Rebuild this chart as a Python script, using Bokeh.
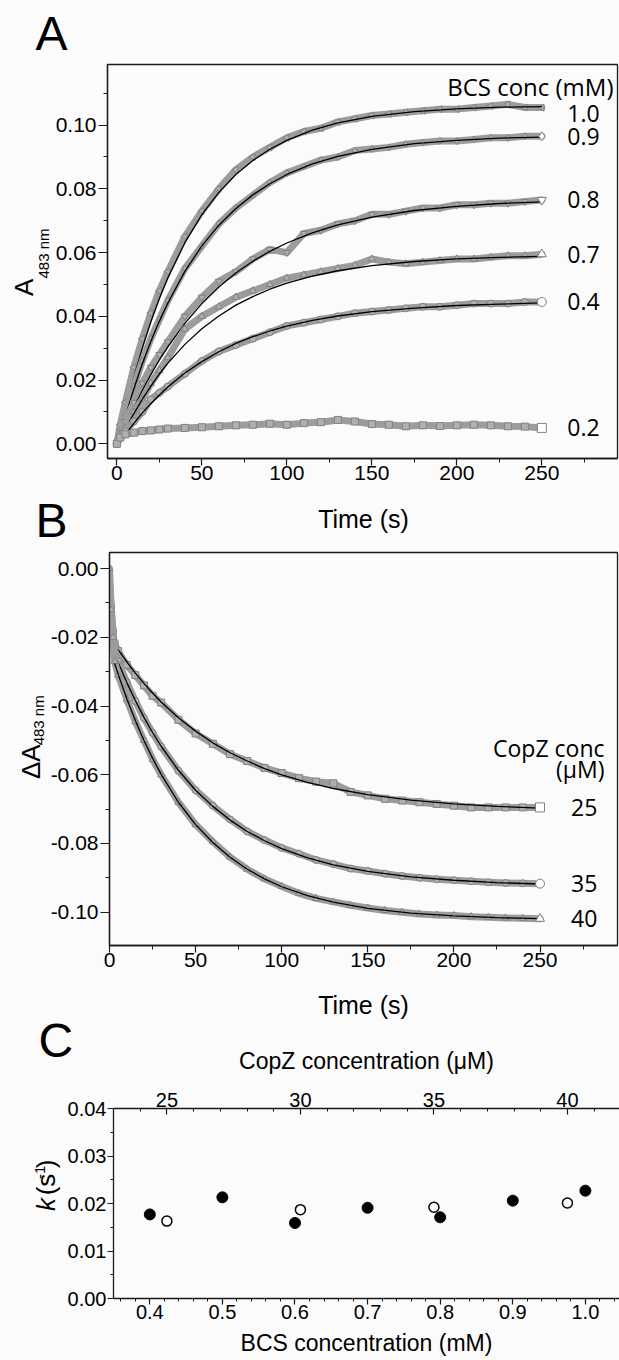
import math
from bokeh.plotting import figure
from bokeh.models import Range1d, LinearAxis, FixedTicker, PrintfTickFormatter, Label
from bokeh.layouts import column, row
from bokeh.core.properties import value
from bokeh.embed import file_html
from bokeh.resources import INLINE

# ---------------- Panel A data (BCS series, absorbance at 483 nm) ----------------
A_LABELS = ["1.0", "0.9", "0.8", "0.7", "0.4", "0.2"]
A_T = [0, 2, 5, 10, 15, 20, 25, 30, 40, 50, 60, 70, 80, 90, 100, 110, 120, 130,
       140, 150, 160, 170, 180, 190, 200, 210, 220, 230, 240, 250]
A_10 = [0.000, 0.006, 0.013, 0.024, 0.033, 0.041, 0.048, 0.054, 0.065, 0.073, 0.080, 0.086,
        0.090, 0.093, 0.096, 0.098, 0.099, 0.101, 0.102, 0.103, 0.1035, 0.104, 0.1045, 0.105,
        0.105, 0.1055, 0.106, 0.1065, 0.1055, 0.1055]
A_09 = [0.000, 0.004, 0.009, 0.018, 0.026, 0.033, 0.039, 0.045, 0.055, 0.062, 0.069, 0.074,
        0.078, 0.082, 0.085, 0.087, 0.089, 0.090, 0.092, 0.0925, 0.093, 0.094, 0.0945, 0.095,
        0.095, 0.0955, 0.096, 0.096, 0.0965, 0.0965]
A_08 = [0.000, 0.004, 0.007, 0.013, 0.019, 0.024, 0.028, 0.032, 0.040, 0.046, 0.051, 0.054,
        0.058, 0.061, 0.060, 0.066, 0.067, 0.069, 0.070, 0.072, 0.072, 0.073, 0.074, 0.074,
        0.075, 0.075, 0.0755, 0.0755, 0.076, 0.0765]
A_07 = [0.000, 0.003, 0.005, 0.010, 0.014, 0.019, 0.023, 0.027, 0.036, 0.040, 0.043, 0.046,
        0.048, 0.050, 0.052, 0.053, 0.054, 0.055, 0.056, 0.058, 0.057, 0.0565, 0.057, 0.0575,
        0.058, 0.058, 0.0585, 0.059, 0.059, 0.0595]
A_04 = [0.000, 0.002, 0.004, 0.007, 0.010, 0.014, 0.016, 0.018, 0.022, 0.026, 0.029, 0.031,
        0.033, 0.035, 0.037, 0.038, 0.039, 0.040, 0.041, 0.0415, 0.042, 0.0425, 0.043, 0.043,
        0.0435, 0.044, 0.044, 0.044, 0.0445, 0.0445]
A_02 = [0.000, 0.002, 0.003, 0.0035, 0.004, 0.0042, 0.0045, 0.0048, 0.005, 0.0052, 0.0055,
        0.0058, 0.006, 0.0063, 0.006, 0.0065, 0.0068, 0.0075, 0.007, 0.0062, 0.006, 0.0055,
        0.0058, 0.0056, 0.0058, 0.006, 0.0058, 0.0055, 0.0054, 0.0050]

A_FT = [0, 5, 10, 15, 20, 25, 30, 40, 50, 60, 70, 80, 90, 100, 115, 130, 150, 175, 200, 225, 250]
AF_10 = [-0.0010, 0.0105, 0.0209, 0.0301, 0.0383, 0.0456, 0.0521, 0.0631, 0.0719, 0.0789, 0.0845,
         0.0889, 0.0924, 0.0952, 0.0984, 0.1007, 0.1027, 0.1042, 0.1051, 0.1056, 0.1058]
AF_09 = [-0.0010, 0.0086, 0.0173, 0.0251, 0.0322, 0.0385, 0.0442, 0.0541, 0.0621, 0.0686, 0.0738,
         0.0781, 0.0816, 0.0845, 0.0878, 0.0902, 0.0924, 0.0942, 0.0952, 0.0959, 0.0962]
AF_08 = [-0.0010, 0.0054, 0.0113, 0.0167, 0.0217, 0.0263, 0.0304, 0.0378, 0.0440, 0.0492, 0.0536,
         0.0573, 0.0604, 0.0630, 0.0662, 0.0687, 0.0711, 0.0732, 0.0745, 0.0754, 0.0759]
AF_07 = [-0.0010, 0.0045, 0.0095, 0.0140, 0.0181, 0.0219, 0.0253, 0.0312, 0.0361, 0.0401, 0.0435,
         0.0462, 0.0485, 0.0504, 0.0526, 0.0543, 0.0559, 0.0572, 0.0580, 0.0585, 0.0588]
AF_04 = [-0.0010, 0.0029, 0.0064, 0.0097, 0.0126, 0.0153, 0.0178, 0.0222, 0.0258, 0.0289, 0.0315,
         0.0336, 0.0354, 0.0369, 0.0387, 0.0401, 0.0415, 0.0426, 0.0434, 0.0438, 0.0442]

A_X_TICKS = [0, 50, 100, 150, 200, 250]
A_X_MINOR = [25, 75, 125, 175, 225, 275]
A_Y_TICKS = [0.0, 0.02, 0.04, 0.06, 0.08, 0.10]
A_Y_MINOR = [0.01, 0.03, 0.05, 0.07, 0.09, 0.11]

# ---------------- Panel B data (CopZ series) ----------------
B_LABELS = ["25", "35", "40"]
B_T = [0, 1, 2, 3, 5, 10, 15, 20, 25, 30, 40, 50, 60, 70, 80, 90, 100, 110, 120, 130,
       140, 150, 160, 170, 180, 190, 200, 210, 220, 230, 240, 250]
B_25 = [-0.013, -0.016, -0.019, -0.022, -0.024, -0.028, -0.031, -0.034, -0.037, -0.039, -0.044,
        -0.048, -0.051, -0.054, -0.056, -0.058, -0.0595, -0.061, -0.062, -0.0625, -0.065, -0.066,
        -0.067, -0.0675, -0.068, -0.0685, -0.069, -0.0695, -0.0695, -0.0695, -0.0695, -0.0695]
B_35 = [-0.005, -0.011, -0.018, -0.024, -0.027, -0.033, -0.0385, -0.0435, -0.0478, -0.0518, -0.0588,
        -0.0645, -0.069, -0.073, -0.0765, -0.079, -0.0813, -0.083, -0.0848, -0.086, -0.0873, -0.088,
        -0.0888, -0.0895, -0.090, -0.0904, -0.0907, -0.091, -0.0913, -0.0915, -0.0916, -0.0917]
B_40 = [0.000, -0.012, -0.020, -0.027, -0.031, -0.038, -0.0445, -0.050, -0.0555, -0.060, -0.068,
        -0.0745, -0.0795, -0.084, -0.0875, -0.0903, -0.0925, -0.0945, -0.096, -0.097, -0.098,
        -0.0988, -0.0995, -0.100, -0.1005, -0.1008, -0.101, -0.1013, -0.1015, -0.1017, -0.1018, -0.1019]

B_FT = [3, 5, 10, 15, 20, 25, 30, 40, 50, 60, 70, 80, 90, 100, 115, 130, 150, 175, 200, 225, 250]
BF_25 = [-0.0221, -0.0236, -0.0271, -0.0304, -0.0334, -0.0362, -0.0388, -0.0434, -0.0473, -0.0507,
         -0.0536, -0.0560, -0.0582, -0.0600, -0.0622, -0.0640, -0.0658, -0.0674, -0.0685, -0.0692, -0.0697]
BF_35 = [-0.0248, -0.0273, -0.0331, -0.0384, -0.0433, -0.0477, -0.0517, -0.0587, -0.0645, -0.0692,
         -0.0732, -0.0765, -0.0792, -0.0815, -0.0842, -0.0862, -0.0881, -0.0897, -0.0907, -0.0914, -0.0918]
BF_40 = [-0.0276, -0.0307, -0.0378, -0.0442, -0.0500, -0.0552, -0.0599, -0.0680, -0.0745, -0.0797,
         -0.0840, -0.0875, -0.0903, -0.0926, -0.0952, -0.0971, -0.0989, -0.1003, -0.1011, -0.1016, -0.1019]

B_Y_TICKS = [-0.10, -0.08, -0.06, -0.04, -0.02, 0.0]
B_Y_MINOR = [-0.09, -0.07, -0.05, -0.03, -0.01]

# ---------------- Panel C data (rate constants) ----------------
C_BCS = [0.4, 0.5, 0.6, 0.7, 0.8, 0.9, 1.0]
C_K_BCS = [0.0177, 0.0213, 0.0159, 0.0191, 0.0171, 0.0206, 0.0227]
C_COPZ = [25, 30, 35, 40]
C_K_COPZ = [0.0163, 0.0187, 0.0192, 0.0201]

C_X_TICKS = [0.4, 0.5, 0.6, 0.7, 0.8, 0.9, 1.0]
C_X_MINOR = [0.36, 0.38, 0.42, 0.44, 0.46, 0.48, 0.52, 0.54, 0.56, 0.58, 0.62, 0.64, 0.66, 0.68,
             0.72, 0.74, 0.76, 0.78, 0.82, 0.84, 0.86, 0.88, 0.92, 0.94, 0.96, 0.98, 1.02, 1.04]
C_TOP_TICKS = [25, 30, 35, 40]
C_TOP_MINOR = [24, 26, 27, 28, 29, 31, 32, 33, 34, 36, 37, 38, 39, 41]
C_Y_TICKS = [0.0, 0.01, 0.02, 0.03, 0.04]
C_Y_MINOR = [0.005, 0.015, 0.025, 0.035]

# ---------------- styles ----------------
AX = "#1a1a1a"
BG = "#fbfbfb"
BAND = "#9c9c9c"
MK_LINE = "#808080"
MK_FILL = "#b0b0b0"
TICK_FONT = "Liberation Sans"
LBL_FONT = "Open Sans"
W = 619
# distance from the vertical middle of the font box to the baseline, in em
MID = {TICK_FONT: 0.347, LBL_FONT: 0.388}


def base_fig(w, h, xr, yr, left, right, top, bottom):
    p = figure(width=w, height=h, x_range=xr, y_range=yr, output_backend="svg",
               toolbar_location=None, min_border_left=left, min_border_right=right,
               min_border_top=top, min_border_bottom=bottom)
    p.xgrid.visible = False
    p.ygrid.visible = False
    p.background_fill_color = BG
    p.border_fill_color = BG
    p.outline_line_color = AX
    p.outline_line_width = 1.3
    return p


def text_fig(w, h):
    p = figure(width=w, height=h, x_range=Range1d(0, w), y_range=Range1d(0, h),
               output_backend="svg", toolbar_location=None, min_border=0,
               x_axis_type=None, y_axis_type=None)
    p.outline_line_color = None
    p.background_fill_color = BG
    p.border_fill_color = BG
    return p


def stxt(p, top, text, px, py, size, font=TICK_FONT, angle=0.0, align="left", style="normal"):
    """Text in a text-only strip whose top edge is at page y `top`.
    (px, py) is the baseline start (page px); rotated texts have the baseline at x = px."""
    d = MID[font] * size
    if angle:
        ax_, ay_ = px - d, py
    else:
        ax_, ay_ = px, py - d
    p.text(x=[ax_], y=[p.height - (ay_ - top)], text=[text], text_font=value(font),
           text_font_size=value(f"{size}px"), angle=angle, text_align=align,
           text_baseline="middle", text_font_style=style, text_color="black")


def style_axis(ax, ticks, minor, fmt, size="21px", tick_out=7, minor_out=4, standoff=1):
    ax.ticker = FixedTicker(ticks=ticks, minor_ticks=minor)
    ax.formatter = PrintfTickFormatter(format=fmt)
    ax.axis_line_color = AX
    ax.axis_line_width = 1.3
    ax.major_tick_line_color = AX
    ax.minor_tick_line_color = AX
    ax.major_tick_line_width = 1.2
    ax.minor_tick_line_width = 1.0
    ax.major_tick_out = tick_out
    ax.major_tick_in = 0
    ax.minor_tick_out = minor_out
    ax.minor_tick_in = 0
    ax.major_label_text_font = TICK_FONT
    ax.major_label_text_font_size = size
    ax.major_label_text_color = "black"
    ax.major_label_standoff = standoff
    ax.axis_label_text_font = TICK_FONT
    ax.axis_label_text_font_style = "normal"
    ax.axis_label_text_color = "black"


def put(p, fl, fb, text, bx, by, size, align="left"):
    """Label inside a frame; (bx, by) = baseline point in page px; frame corner at (fl, fb)."""
    p.add_layout(Label(x=p.x_range.start, y=p.y_range.start, x_offset=bx - fl,
                       y_offset=fb - (by - MID[LBL_FONT] * size), text=text, text_font=LBL_FONT,
                       text_font_size=f"{size}px", text_align=align, text_baseline="middle",
                       text_color="black"))


def series(p, t, y, ft, fy, marker, angle=0.0, end=True):
    p.line(t, y, line_color=BAND, line_width=7, line_join="round", line_cap="round")
    p.scatter(t, y, marker=marker, size=7, angle=angle, line_color=MK_LINE,
              fill_color=MK_FILL, line_width=1)
    if ft is not None:
        p.line(ft, fy, line_color="black", line_width=1.3)
    if end:
        p.scatter(t[-1:], y[-1:], marker=marker, size=9, angle=angle, line_color=MK_LINE,
                  fill_color="white", line_width=1)


def end_labels(p, labels, data, x, extra=None):
    for i, (lab, d) in enumerate(zip(labels, data)):
        off = extra.get(i, 0) if extra else 0
        p.add_layout(Label(x=x, y=d[-1], y_offset=off, text=lab, text_font=LBL_FONT,
                           text_font_size="23px", text_baseline="middle", text_color="black"))


# ================= header (page y 0..61) =================
hA = text_fig(W, 61)
stxt(hA, 0, "A", 35, 50, 48)

# ================= Panel A (page y 61..490) =================
SA_W = 52
sA = text_fig(SA_W, 429)
stxt(sA, 61, "A", 33, 313, 26, angle=math.pi / 2)
stxt(sA, 61, "483 nm", 48, 294, 15, angle=math.pi / 2)

pA = base_fig(W - SA_W, 429, Range1d(-5.5, 294.5), Range1d(-0.0046, 0.119), 55, 2, 3, 32)
FLA, FBA = 107, 458
style_axis(pA.xaxis[0], A_X_TICKS, A_X_MINOR, "%d", tick_out=7, minor_out=4, standoff=0)
style_axis(pA.yaxis[0], A_Y_TICKS, A_Y_MINOR, "%.2f", tick_out=9, minor_out=4, standoff=2)

a_data = [A_10, A_09, A_08, A_07, A_04, A_02]
a_fit = [AF_10, AF_09, AF_08, AF_07, AF_04, None]
a_mk = [("triangle", math.pi / 2), ("diamond", 0.0), ("inverted_triangle", 0.0),
        ("triangle", 0.0), ("circle", 0.0), ("square", 0.0)]
for i, (d, f, (mk, ang)) in enumerate(zip(a_data, a_fit, a_mk)):
    series(pA, A_T, d, A_FT if f is not None else None, f, mk, ang, end=(i != 0))
end_labels(pA, A_LABELS, a_data, 265, extra={0: -6})
put(pA, FLA, FBA, "BCS conc (mM)", 613, 95, 24, align="right")

# ================= strip between A and B (page y 490..548) =================
mAB = text_fig(W, 58)
stxt(mAB, 490, "Time (s)", 363, 527, 25, align="center")
stxt(mAB, 490, "B", 35, 537, 48)

# ================= Panel B (page y 548..980) =================
SB_W = 47
sB = text_fig(SB_W, 432)
stxt(sB, 548, "\u0394A", 40, 797, 26, angle=math.pi / 2)
stxt(sB, 548, "483 nm", 43, 760, 15, angle=math.pi / 2)

pB = base_fig(W - SB_W, 432, Range1d(0, 295), Range1d(-0.1097, 0.0047), 61, 2, 4, 35)
FLB, FBB = 108, 945
style_axis(pB.xaxis[0], A_X_TICKS, A_X_MINOR, "%d", tick_out=7, minor_out=4, standoff=0)
style_axis(pB.yaxis[0], B_Y_TICKS, B_Y_MINOR, "%.2f", tick_out=9, minor_out=4, standoff=2)

b_data = [B_25, B_35, B_40]
b_fit = [BF_25, BF_35, BF_40]
b_mk = ["square", "circle", "triangle"]
for d, f, mk in zip(b_data, b_fit, b_mk):
    series(pB, B_T, d, B_FT, f, mk)
end_labels(pB, B_LABELS, b_data, 268)
put(pB, FLB, FBB, "CopZ conc", 603, 756, 23, align="right")
put(pB, FLB, FBB, "(\u03bcM)", 603, 777, 23, align="right")

# ================= strip between B and C (page y 980..1080) =================
mBC = text_fig(W, 100)
stxt(mBC, 980, "Time (s)", 363, 1013, 25, align="center")
stxt(mBC, 980, "C", 38, 1057, 48)
stxt(mBC, 980, "CopZ concentration (\u03bcM)", 366, 1068, 23, align="center")

# ================= Panel C (page y 1080..1360) =================
SC_W = 64
sC = text_fig(SC_W, 280)
stxt(sC, 1080, "k", 55, 1231, 26, angle=math.pi / 2, style="italic")
stxt(sC, 1080, "(s", 55, 1208, 26, angle=math.pi / 2)
stxt(sC, 1080, "-1", 45, 1184, 15, angle=math.pi / 2)
stxt(sC, 1080, ")", 55, 1168, 26, angle=math.pi / 2)

pC = base_fig(W - SC_W, 280, Range1d(0.35, 1.047), Range1d(0, 0.04), 49, 0, 28, 62)
pC.outline_line_color = None
pC.extra_x_ranges = {"copz": Range1d(23.0, 41.95)}
style_axis(pC.xaxis[0], C_X_TICKS, C_X_MINOR, "%.1f", size="20px", tick_out=6, minor_out=3, standoff=0)
style_axis(pC.yaxis[0], C_Y_TICKS, C_Y_MINOR, "%.2f", size="20px", tick_out=6, minor_out=3, standoff=1)
pC.xaxis.axis_label = "BCS concentration (mM)"
pC.xaxis.axis_label_text_font_size = "23px"
pC.xaxis.axis_label_standoff = 8
top = LinearAxis(x_range_name="copz")
style_axis(top, C_TOP_TICKS, C_TOP_MINOR, "%d", size="20px", tick_out=0, minor_out=0, standoff=2)
top.major_tick_in = 6
top.minor_tick_in = 3
pC.add_layout(top, "above")

pC.scatter(C_BCS, C_K_BCS, marker="circle", size=11, fill_color="black", line_color="black")
pC.scatter(C_COPZ, C_K_COPZ, marker="circle", size=10, fill_color="white", line_color="black",
           line_width=1.5, x_range_name="copz")

layout = column(hA, row(sA, pA), mAB, row(sB, pB), mBC, row(sC, pC))
open("out.html", "w").write(file_html(layout, INLINE))
